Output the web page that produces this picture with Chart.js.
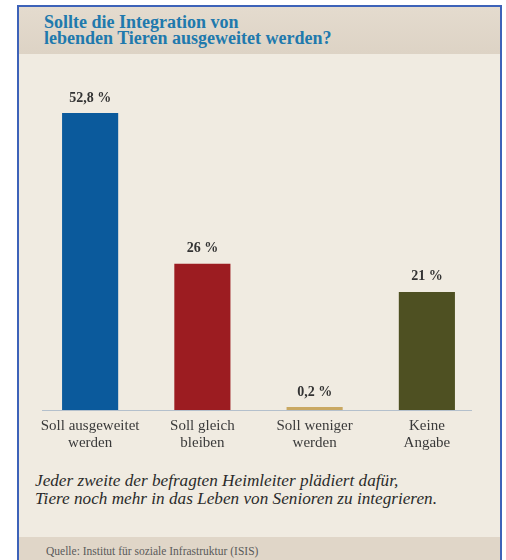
<!DOCTYPE html>
<html>
<head>
<meta charset="utf-8">
<script src="https://cdn.jsdelivr.net/npm/chart.js@4"></script>
<style>
  html, body { margin: 0; padding: 0; background: #ffffff; }
  body { width: 506px; height: 560px; position: relative; overflow: hidden; font-family: "Liberation Serif", "DejaVu Serif", serif; }
  .frame { position: absolute; left: 17px; top: 5px; width: 481px; height: 560px; border: 2px solid #3d62b8; border-bottom: none; background: #f0ebe1; }
  .header { position: absolute; left: 0; top: 0; width: 100%; height: 47px; background: linear-gradient(#e4dbce, #ddd3c5); }
  .header h1 { margin: 0; position: absolute; left: 25px; top: 7px; font-size: 18px; line-height: 16px; font-weight: bold; color: #2079ad; }
  .caption { position: absolute; left: 16px; top: 465px; font-style: italic; font-size: 17.2px; line-height: 18px; color: #2b2b2b; }
  .footer { position: absolute; left: 0; top: 530px; width: 100%; height: 30px; background: #e0d6c8; }
  .footer span { position: absolute; left: 27px; top: 8px; font-size: 11.5px; color: #5a5a5a; }
  #chartWrap { position: absolute; left: 1px; top: 55px; width: 481px; height: 400px; }
</style>
</head>
<body>
<div class="frame">
  <div class="header"><h1>Sollte die Integration von<br>lebenden Tieren ausgeweitet werden?</h1></div>
  <div id="chartWrap"><canvas id="chart"></canvas></div>
  <div class="caption">Jeder zweite der befragten Heimleiter plädiert dafür,<br>Tiere noch mehr in das Leben von Senioren zu integrieren.</div>
  <div class="footer"><span>Quelle: Institut für soziale Infrastruktur (ISIS)</span></div>
</div>
<script>
const categories = [
  ['Soll ausgeweitet', 'werden'],
  ['Soll gleich', 'bleiben'],
  ['Soll weniger', 'werden'],
  ['Keine', 'Angabe']
];
const values = [52.8, 26, 0.2, 21];
const valueLabels = ['52,8 %', '26 %', '0,2 %', '21 %'];
const barColors = ['#0b5a9c', '#9c1c21', '#c9a862', '#4e5022'];

// value labels above bars
const valueLabelPlugin = {
  id: 'valueLabels',
  afterDatasetsDraw(chart) {
    const ctx = chart.ctx;
    const meta = chart.getDatasetMeta(0);
    ctx.save();
    ctx.font = 'bold 14px "Liberation Serif", serif';
    ctx.fillStyle = '#333333';
    ctx.textAlign = 'center';
    ctx.textBaseline = 'middle';
    meta.data.forEach((bar, i) => {
      ctx.fillText(valueLabels[i], bar.x, bar.y - 15);
    });
    ctx.restore();
  }
};

// thin base line, a bit shorter than the chart area
const baseLinePlugin = {
  id: 'baseLine',
  beforeDatasetsDraw(chart) {
    const { ctx, chartArea } = chart;
    const y = chart.scales.y.getPixelForValue(0);
    ctx.save();
    ctx.strokeStyle = '#b4c0cc';
    ctx.lineWidth = 1;
    ctx.beginPath();
    ctx.moveTo(chartArea.left + 8, y + 0.5);
    ctx.lineTo(chartArea.right - 11, y + 0.5);
    ctx.stroke();
    ctx.restore();
  }
};

new Chart(document.getElementById('chart'), {
  type: 'bar',
  data: {
    labels: categories,
    datasets: [{
      data: values,
      backgroundColor: barColors,
      borderWidth: 0,
      categoryPercentage: 1,
      barPercentage: 0.5,
      minBarLength: 3
    }]
  },
  options: {
    responsive: true,
    maintainAspectRatio: false,
    animation: false,
    layout: { padding: { left: 14, right: 18, top: 10.5, bottom: 0 } },
    plugins: {
      legend: { display: false },
      tooltip: { enabled: false }
    },
    scales: {
      y: {
        display: false,
        min: 0,
        max: 60
      },
      x: {
        grid: { display: false, drawTicks: false },
        border: { display: false },
        afterFit: (scale) => { scale.height = 52; },
        ticks: {
          color: '#3a3a3a',
          padding: 7,
          maxRotation: 0,
          font: { family: '"Liberation Serif", serif', size: 15, lineHeight: 1.15 }
        }
      }
    }
  },
  plugins: [valueLabelPlugin, baseLinePlugin]
});
</script>
</body>
</html>
